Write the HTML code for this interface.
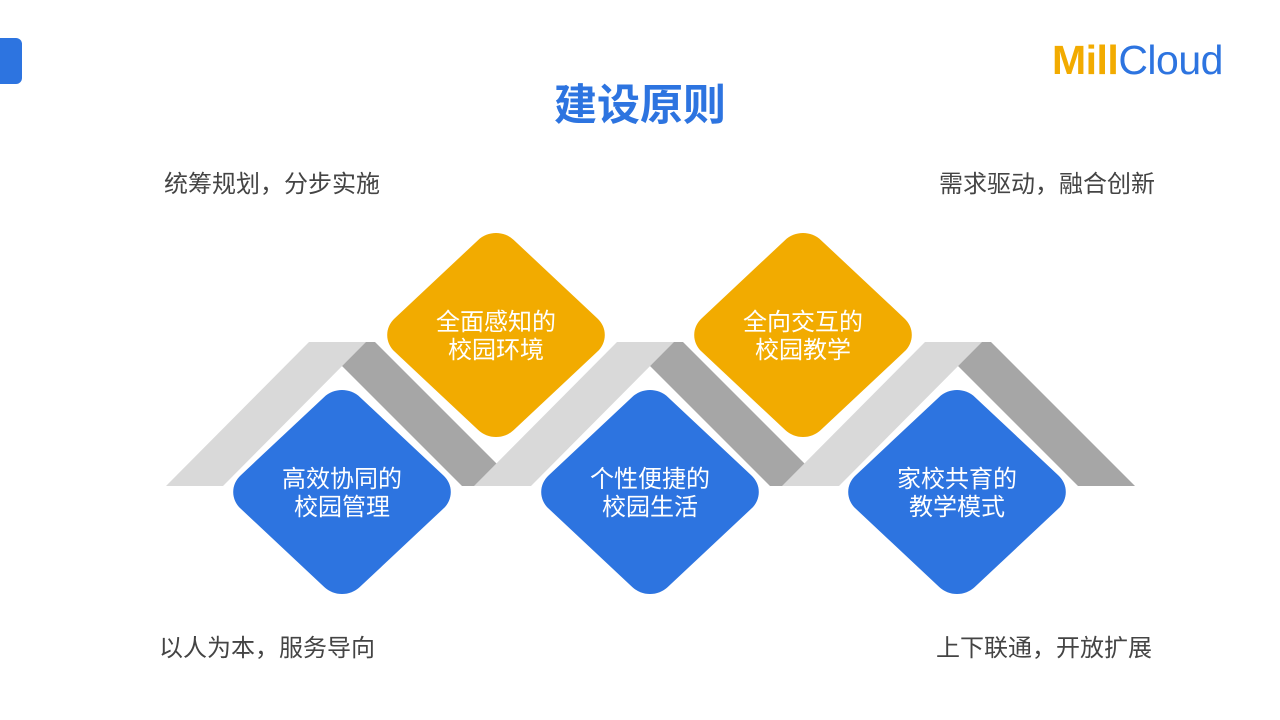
<!DOCTYPE html>
<html><head><meta charset="utf-8"><style>
body{margin:0;width:1280px;height:720px;background:#fff;position:relative;overflow:hidden;font-family:"Liberation Sans","Noto Sans CJK SC",sans-serif}
.t{position:absolute;font-size:24px;color:#444;white-space:nowrap}
.d{position:absolute;width:162px;height:162px;border-radius:24px;transform:scale(1.04,0.975) rotate(45deg)}
.l{position:absolute;width:200px;text-align:center;color:#fff;font-size:24px;line-height:28px}
</style></head><body>
<div style="position:absolute;left:-10px;top:38px;width:32px;height:46px;background:#2d74e0;border-radius:6px"></div>
<div style="position:absolute;left:1052px;top:37px;font-size:41px;letter-spacing:-0.5px"><span style="color:#f2ab00;font-weight:bold">Mill</span><span style="color:#2d74e0">Cloud</span></div>
<div style="position:absolute;left:0;width:1280px;top:71px;text-align:center;font-size:43px;font-weight:bold;color:#2d74e0">建设原则</div>
<div class="t" style="left:164px;top:164px">统筹规划，分步实施</div>
<div class="t" style="left:939px;top:164px">需求驱动，融合创新</div>
<div class="t" style="left:159px;top:628px">以人为本，服务导向</div>
<div class="t" style="left:936px;top:628px">上下联通，开放扩展</div>
<svg style="position:absolute;left:0;top:0" width="1280" height="720">
<g fill="#a6a6a6">
<polygon points="318,342 375,342 519,486 462,486"/>
<polygon points="626,342 683,342 827,486 770,486"/>
<polygon points="934,342 991,342 1135,486 1078,486"/>
</g>
<g fill="#d9d9d9">
<polygon points="309,342 366,342 223,486 166,486"/>
<polygon points="617,342 674,342 531,486 474,486"/>
<polygon points="925,342 982,342 839,486 782,486"/>
</g>
</svg>
<div class="d" style="left:415px;top:254px;background:#f2ab00"></div>
<div class="d" style="left:722px;top:254px;background:#f2ab00"></div>
<div class="d" style="left:261px;top:411px;background:#2d74e0"></div>
<div class="d" style="left:569px;top:411px;background:#2d74e0"></div>
<div class="d" style="left:876px;top:411px;background:#2d74e0"></div>
<div class="l" style="left:396px;top:309px">全面感知的<br>校园环境</div>
<div class="l" style="left:703px;top:309px">全向交互的<br>校园教学</div>
<div class="l" style="left:242px;top:466px">高效协同的<br>校园管理</div>
<div class="l" style="left:550px;top:466px">个性便捷的<br>校园生活</div>
<div class="l" style="left:857px;top:466px">家校共育的<br>教学模式</div>
</body></html>
